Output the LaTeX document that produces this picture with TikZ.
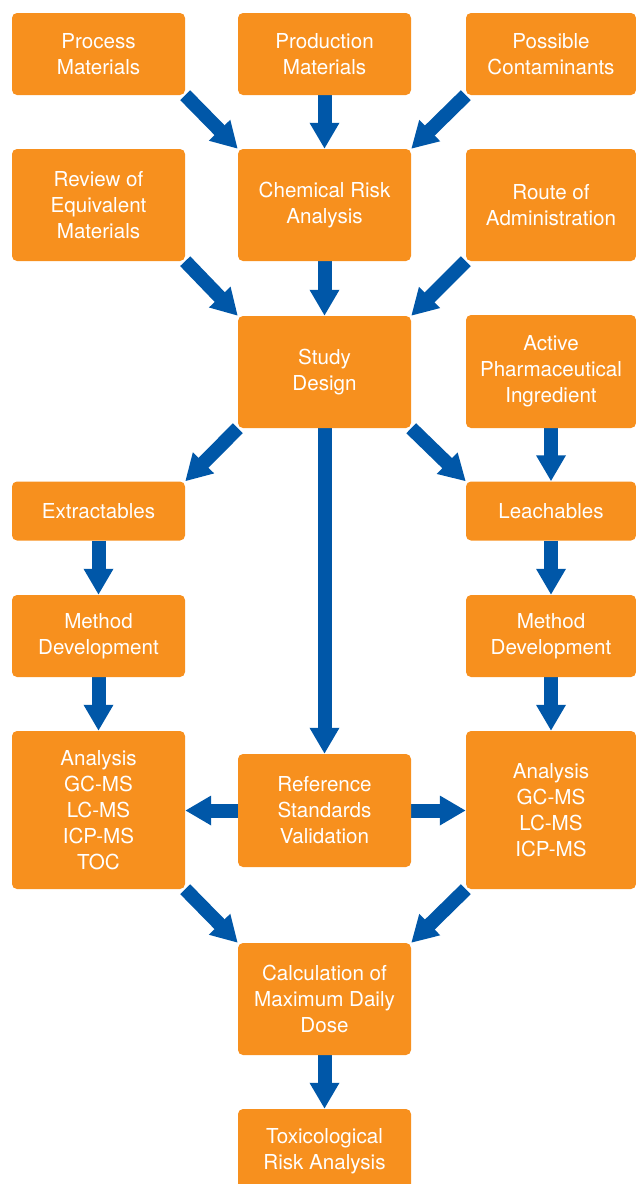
\documentclass[tikz,border=0pt]{standalone}
\usepackage{fontspec}
\setmainfont{TeX Gyre Heros}
\usepackage{xcolor}
\usetikzlibrary{arrows.meta,backgrounds}

\definecolor{boxorange}{HTML}{F7901E}
\definecolor{arrowblue}{HTML}{0057A8}

\begin{document}
\begin{tikzpicture}[
  x = 1pt, y = -1pt,
  every node/.style = {fill = boxorange, rounded corners = 5pt, text = white,
                       align = center, inner sep = 0pt, minimum width = 173pt,
                       font = \fontsize{20.6}{26}\selectfont},
  rbox/.style = {minimum width = 170pt},
  arr/.style = {draw = arrowblue, line width = 14pt,
                -{Triangle[width = 28pt, length = 26pt]}}
  ]
  \clip (0,0) rectangle (636,1184);
  % top row
  \node[minimum height = 82pt] (pm)  at (98.5,54)  {Process\\Materials};
  \node[minimum height = 82pt] (prm) at (324.5,54) {Production\\Materials};
  \node[rbox, minimum height = 82pt] (pc) at (551,54) {Possible\\Contaminants};
  % second row
  \node[minimum height = 112pt] (rev) at (98.5,205)  {Review of\\Equivalent\\Materials};
  \node[minimum height = 112pt] (cra) at (324.5,205) {Chemical Risk\\Analysis};
  \node[rbox, minimum height = 112pt] (roa) at (551,205) {Route of\\Administration};
  % study design
  \node[minimum height = 112pt] (sd) at (324.5,372) {Study\\Design};
  \node[rbox, minimum height = 113pt] (api) at (551,371.5) {Active\\Pharmaceutical\\Ingredient};
  % extractables / leachables
  \node[minimum height = 59pt] (ext) at (98.5,511) {Extractables};
  \node[rbox, minimum height = 59pt] (lea) at (551,511) {Leachables};
  \node[minimum height = 82pt] (md1) at (98.5,636) {Method\\Development};
  \node[rbox, minimum height = 82pt] (md2) at (551,636) {Method\\Development};
  % analysis
  \node[minimum height = 158pt] (an1) at (98.5,810) {Analysis\\GC-MS\\LC-MS\\ICP-MS\\TOC};
  \node[minimum height = 113pt] (rsv) at (324.5,810.5) {Reference\\Standards\\Validation};
  \node[rbox, minimum height = 158pt] (an2) at (551,810) {Analysis\\GC-MS\\LC-MS\\ICP-MS};
  % bottom
  \node[minimum height = 112pt] (cmd) at (324.5,999) {Calculation of\\Maximum Daily\\Dose};
  \node[minimum height = 84pt] (tra) at (324.5,1151) {Toxicological\\Risk Analysis};

  \begin{scope}[on background layer]
    \draw[arr] (pm.south east) -- (cra.north west);
    \draw[arr] (prm) -- (cra);
    \draw[arr] (pc.south west) -- (cra.north east);
    \draw[arr] (rev.south east) -- (sd.north west);
    \draw[arr] (cra) -- (sd);
    \draw[arr] (roa.south west) -- (sd.north east);
    \draw[arr] (sd.south west) -- (ext.north east);
    \draw[arr] (sd.south east) -- (lea.north west);
    \draw[arr] (api) -- (lea);
    \draw[arr] (ext) -- (md1);
    \draw[arr] (lea) -- (md2);
    \draw[arr] (md1) -- (an1);
    \draw[arr] (md2) -- (an2);
    \draw[arr] (sd) -- (rsv);
    \draw[arr] (rsv.west) -- (rsv.west -| an1.east);
    \draw[arr] (rsv.east) -- (rsv.east -| an2.west);
    \draw[arr] (an1.south east) -- (cmd.north west);
    \draw[arr] (an2.south west) -- (cmd.north east);
    \draw[arr] (cmd) -- (tra);
  \end{scope}
\end{tikzpicture}
\end{document}
